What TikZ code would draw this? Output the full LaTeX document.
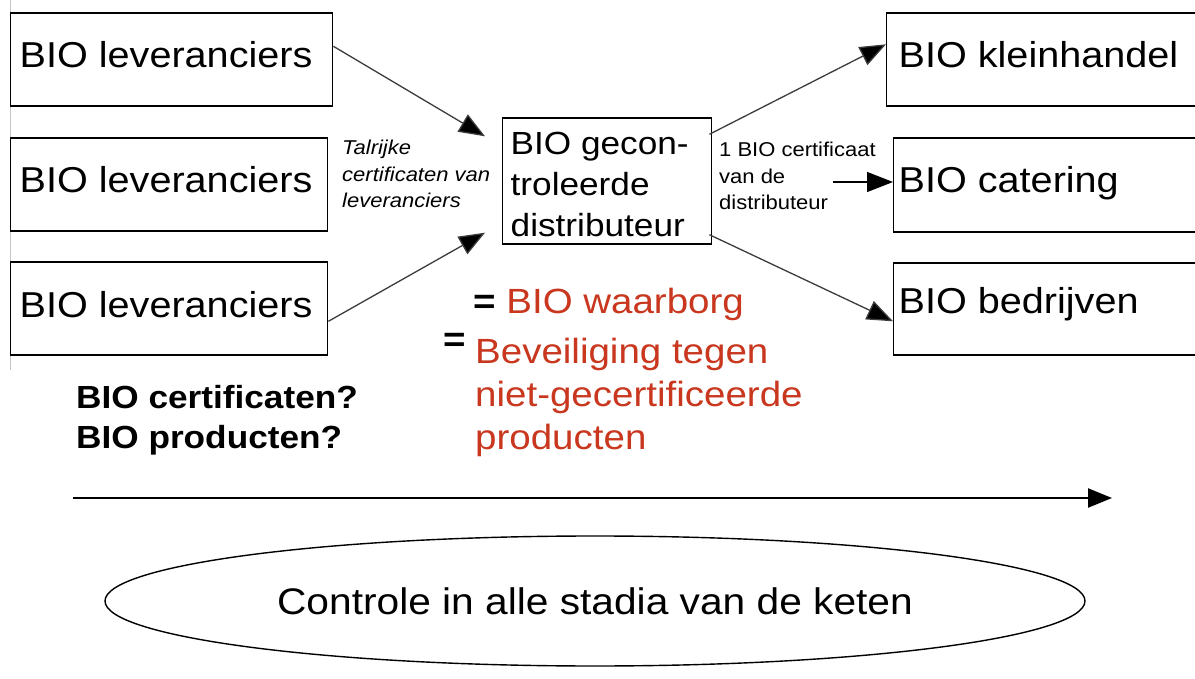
\documentclass[tikz,border=0pt]{standalone}
\usepackage{fontspec}
\setmainfont[FakeStretch=1.1]{Liberation Sans}
\usetikzlibrary{shapes.geometric,arrows.meta}
\definecolor{bioRed}{RGB}{200,55,30}
\definecolor{lineGray}{RGB}{60,60,60}
\tikzset{
  box/.style={draw, line width=1.4pt, inner ysep=0pt, anchor=base west,
    font=\fontsize{36pt}{42pt}\selectfont},
  flow/.style={draw=lineGray, line width=1.3pt, -{Triangle[length=26pt,width=20pt,fill=black]}},
  txt/.style={anchor=base west, inner sep=0pt}
}
\begin{document}
\begin{tikzpicture}[x=1pt,y=-1pt]
\useasboundingbox[fill=white] (0,0) rectangle (1195,679);
\draw[gray!45, line width=0.8pt] (10,0) -- (10,370);
% left boxes
\node[box, inner xsep=9pt, text height=55pt, text depth=38pt] (l1) at (10,68) {\parbox[t]{304pt}{BIO leveranciers}};
\node[box, inner xsep=9pt, text height=55pt, text depth=38pt] (l2) at (10,193) {\parbox[t]{299pt}{BIO leveranciers}};
\node[box, inner xsep=9pt, text height=55pt, text depth=38pt] (l3) at (10,317) {\parbox[t]{299pt}{BIO leveranciers}};
% centre box
\node[box, inner xsep=8pt, text height=37pt, text depth=89pt,
  font=\fontsize{32pt}{41pt}\selectfont] (c) at (502,155)
  {\parbox[t]{193pt}{\raggedright BIO gecon-\\troleerde\\distributeur}};
% right boxes
\node[box, inner xsep=12pt, text height=55pt, text depth=38pt] (r1) at (886,68) {\parbox[t]{295pt}{BIO kleinhandel}};
\node[box, inner xsep=5pt, text height=55pt, text depth=39pt] (r2) at (893,193) {\parbox[t]{302pt}{BIO catering}};
\node[box, inner xsep=5pt, text height=51pt, text depth=41pt] (r3) at (893,314) {\parbox[t]{302pt}{BIO bedrijven}};
% labels
\node[txt, font=\itshape\fontsize{20pt}{26.5pt}\selectfont] (tal) at (342,155)
  {\parbox[t]{160pt}{\raggedright Talrijke\\certificaten van\\leveranciers}};
\node[txt, font=\fontsize{20pt}{26.5pt}\selectfont] (cert) at (719,157)
  {\parbox[t]{170pt}{\raggedright 1 BIO certificaat\\van de\\distributeur}};
% connectors
\draw[flow] ([yshift=-34pt]l1.north east) -- ([xshift=-17pt,yshift=-19pt]c.north west);
\draw[flow] ([yshift=-60pt]l3.north east) -- ([xshift=-17pt,yshift=12pt]c.south west);
\draw[flow] ([xshift=-3pt,yshift=-17pt]c.north east) -- ([yshift=-32pt]r1.north west);
\draw[flow] ([xshift=-3pt,yshift=10pt]c.south east) -- ([yshift=-59pt]r3.north west);
\coordinate (cs) at (833,182);
\draw[flow, draw=black] (cs) -- (cs -| r2.west);
% red statements
\node[txt, font=\fontsize{35pt}{42pt}\selectfont] (wb) at (473,313)
  {\textbf{=} \textcolor{bioRed}{BIO waarborg}};
\node[txt, font=\bfseries\fontsize{35pt}{42pt}\selectfont] (eq) at (443,352) {=};
\node[txt, text=bioRed, font=\fontsize{35pt}{43pt}\selectfont] (bev) at (475,363)
  {\parbox[t]{360pt}{\raggedright Beveiliging tegen\\niet-gecertificeerde\\producten}};
% questions
\node[txt, font=\bfseries\fontsize{32pt}{40pt}\selectfont] (q) at (76,408)
  {\parbox[t]{300pt}{\raggedright BIO certificaten?\\BIO producten?}};
% timeline
\coordinate (t0) at (73,498);
\coordinate (t1) at (1112,498);
\draw[line width=2.4pt, -{Triangle[length=24pt,width=19pt]}] (t0) -- (t1);
% ellipse
\node[ellipse, draw, line width=1.4pt, minimum width=980pt, minimum height=130pt,
  font=\fontsize{37pt}{44pt}\selectfont] (ell) at (595,601) {Controle in alle stadia van de keten};
\end{tikzpicture}
\end{document}
